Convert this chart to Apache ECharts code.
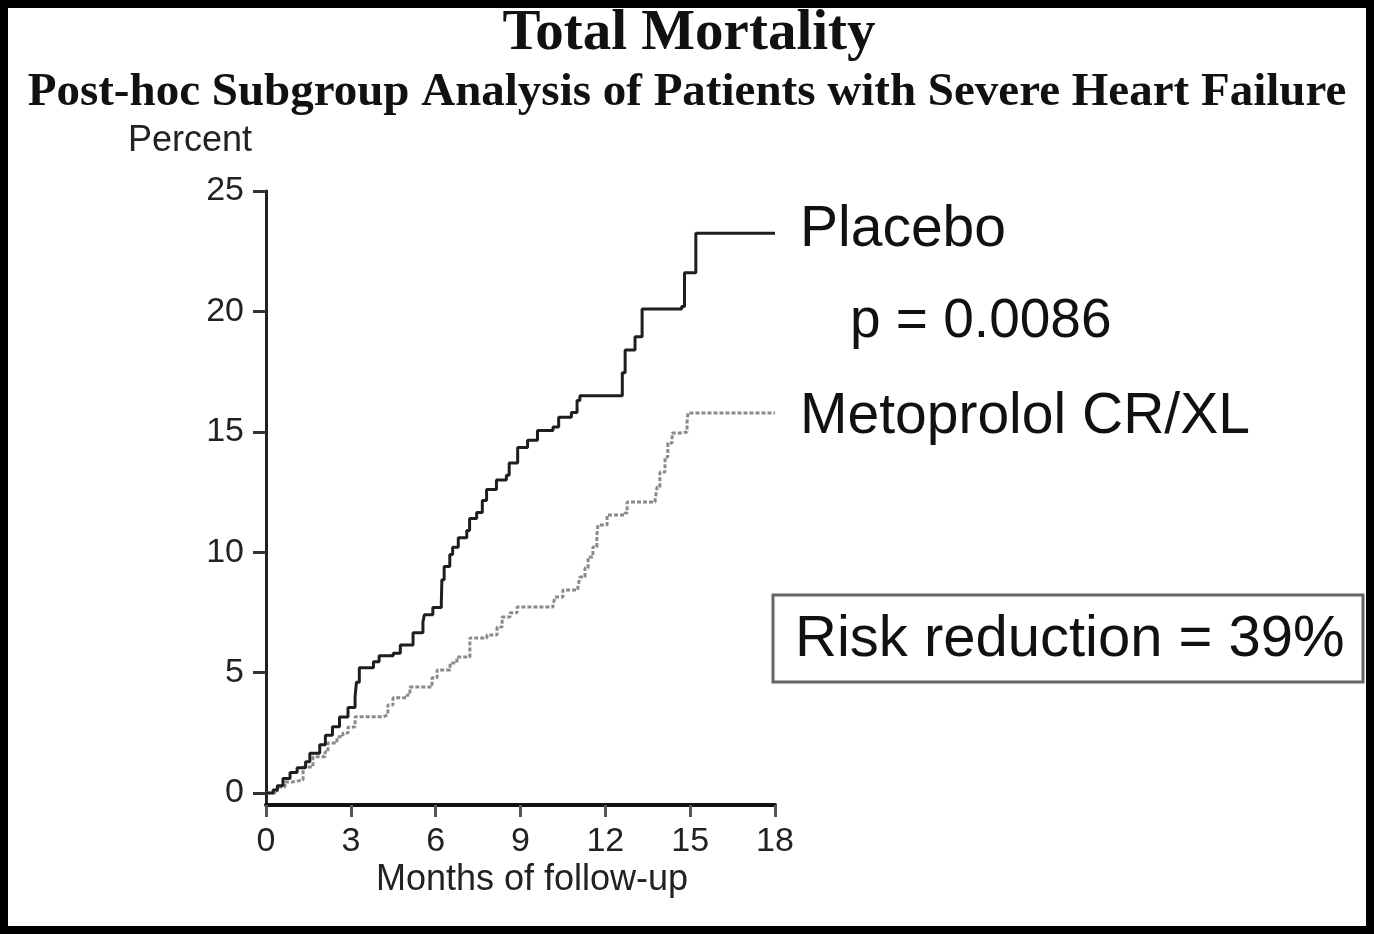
<!DOCTYPE html>
<html>
<head>
<meta charset="utf-8">
<script src="https://cdn.jsdelivr.net/npm/echarts@6/dist/echarts.min.js"></script>
<style>
html,body{margin:0;padding:0;background:#000;width:1374px;height:934px;overflow:hidden;}
#chart{position:absolute;left:8px;top:8px;width:1358px;height:918px;background:#fff;}
</style>
</head>
<body>
<div id="chart"></div>
<script>
// ---- data ----
const titleText = 'Total Mortality';
const subtitleText = 'Post-hoc Subgroup Analysis of Patients with Severe Heart Failure';
const yAxisTitle = 'Percent';
const xAxisTitle = 'Months of follow-up';
const yTickValues = [0, 5, 10, 15, 20, 25];
const xTickValues = [0, 3, 6, 9, 12, 15, 18];

const placeboName = 'Placebo';
const placeboMonths = [0, 0.25, 0.4, 0.6, 0.85, 1.1, 1.4, 1.55, 1.9, 2.1, 2.35, 2.6, 2.9, 3.15, 3.2, 3.3, 3.8, 4.0, 4.5, 4.75, 5.2, 5.55, 5.6, 5.9, 6.2, 6.22, 6.3, 6.5, 6.6, 6.8, 7.1, 7.2, 7.45, 7.65, 7.8, 8.15, 8.5, 8.6, 8.9, 9.25, 9.6, 10.15, 10.35, 10.8, 11.0, 11.1, 12.6, 12.7, 13.05, 13.3, 14.7, 14.8, 15.2, 18];
const placeboPct    = [0, 0.12, 0.3, 0.6, 0.85, 1.05, 1.3, 1.65, 2.0, 2.4, 2.75, 3.15, 3.55, 4.0, 4.6, 5.2, 5.45, 5.7, 5.8, 6.15, 6.65, 7.1, 7.4, 7.7, 7.9, 8.85, 9.4, 9.9, 10.2, 10.6, 10.9, 11.4, 11.65, 12.15, 12.6, 13.0, 13.2, 13.7, 14.35, 14.65, 15.05, 15.2, 15.6, 15.8, 16.3, 16.5, 17.45, 18.4, 18.95, 20.1, 20.2, 21.6, 23.25, 23.25];

const metoName = 'Metoprolol CR/XL';
const metoMonths = [0, 0.4, 0.67, 0.95, 1.31, 1.66, 2.09, 2.19, 2.51, 2.72, 2.9, 3.15, 4.14, 4.31, 4.49, 4.99, 5.09, 5.73, 5.87, 6.05, 6.51, 6.75, 7.21, 7.81, 8.17, 8.35, 8.63, 8.88, 10.15, 10.22, 10.5, 11.03, 11.1, 11.28, 11.39, 11.56, 11.7, 11.74, 12.06, 12.69, 12.77, 13.76, 13.83, 13.93, 14.11, 14.21, 14.36, 14.64, 14.89, 14.92, 18];
const metoPct    = [0, 0.25, 0.46, 0.54, 1.08, 1.5, 1.7, 2.08, 2.33, 2.49, 2.74, 3.16, 3.24, 3.65, 3.95, 4.07, 4.4, 4.4, 4.78, 5.11, 5.4, 5.65, 6.44, 6.56, 6.89, 7.31, 7.48, 7.72, 7.81, 8.14, 8.43, 8.55, 8.97, 9.34, 9.8, 10.22, 10.71, 11.13, 11.54, 11.63, 12.08, 12.17, 12.71, 13.33, 13.95, 14.53, 14.95, 14.99, 15.41, 15.78, 15.78];

const pValueText = 'p = 0.0086';
const riskText = 'Risk reduction = 39%';

// ---- chart ----
const chart = echarts.init(document.getElementById('chart'), null, {renderer: 'canvas'});
const sans = 'Liberation Sans, Arial, sans-serif';
const serif = 'Liberation Serif, Times New Roman, serif';

function zip(xs, ys){ return xs.map((x, i) => [x, ys[i]]); }

const option = {
  animation: false,
  backgroundColor: '#fff',
  grid: {left: 258, top: 183, width: 509, height: 614, containLabel: false},
  xAxis: {
    type: 'value', min: 0, max: 18, interval: 3,
    axisLine: {show: true, onZero: false, lineStyle: {color: '#111', width: 4}},
    axisTick: {show: true, length: 12, lineStyle: {color: '#555', width: 3}},
    axisLabel: {fontSize: 34, color: '#222', margin: 20, fontFamily: sans,
      customValues: xTickValues},
    splitLine: {show: false}
  },
  yAxis: {
    type: 'value', min: -0.5, max: 25,
    axisLine: {show: true, onZero: false, lineStyle: {color: '#222', width: 3}},
    axisTick: {show: true, length: 13, lineStyle: {color: '#333', width: 3}, customValues: yTickValues},
    axisLabel: {fontSize: 34, color: '#222', margin: 22, fontFamily: sans, customValues: yTickValues},
    splitLine: {show: false}
  },
  series: [
    {
      name: placeboName, type: 'line', step: 'end', showSymbol: false,
      data: zip(placeboMonths, placeboPct),
      lineStyle: {color: '#1e1e1e', width: 3}, z: 3
    },
    {
      name: metoName, type: 'line', step: 'end', showSymbol: false,
      data: zip(metoMonths, metoPct),
      lineStyle: {color: '#8a8a8a', width: 3, type: [4, 2]}, z: 2
    }
  ],
  graphic: [
    {type: 'text', x: 681, y: 26, style: {text: titleText, font: 'bold 57px ' + serif, fill: '#111', textAlign: 'center', textVerticalAlign: 'middle'}},
    {type: 'text', x: 679, y: 85, style: {text: subtitleText, font: 'bold 47px ' + serif, fill: '#111', textAlign: 'center', textVerticalAlign: 'middle'}},
    {type: 'text', x: 182, y: 133, style: {text: yAxisTitle, font: '36px ' + sans, fill: '#222', textAlign: 'center', textVerticalAlign: 'middle'}},
    {type: 'text', x: 524, y: 872, style: {text: xAxisTitle, font: '36px ' + sans, fill: '#222', textAlign: 'center', textVerticalAlign: 'middle'}},
    {type: 'text', x: 792, y: 222, style: {text: placeboName, font: '57px ' + sans, fill: '#111', textVerticalAlign: 'middle'}},
    {type: 'text', x: 842, y: 314, style: {text: pValueText, font: '55px ' + sans, fill: '#111', textVerticalAlign: 'middle'}},
    {type: 'text', x: 792, y: 409, style: {text: metoName, font: '57px ' + sans, fill: '#111', textVerticalAlign: 'middle'}},
    {type: 'rect', shape: {x: 765, y: 587, width: 590, height: 87}, style: {fill: 'none', stroke: '#666', lineWidth: 3}},
    {type: 'text', x: 787, y: 632, style: {text: riskText, font: '58px ' + sans, fill: '#111', textVerticalAlign: 'middle'}}
  ]
};
chart.setOption(option);
</script>
</body>
</html>
